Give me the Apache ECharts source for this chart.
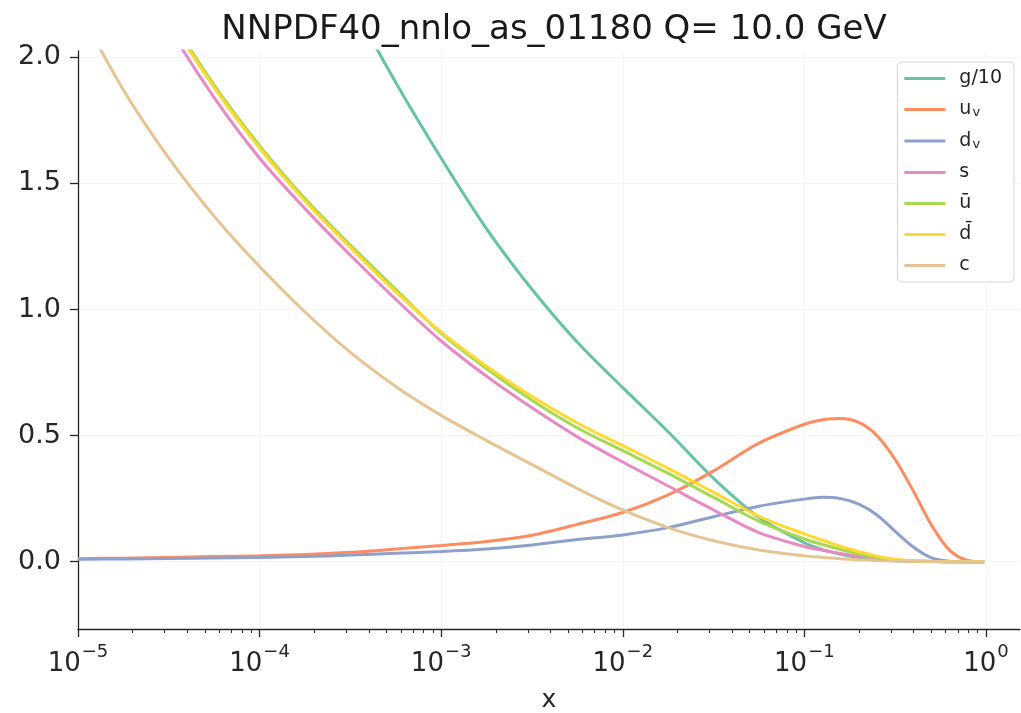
<!DOCTYPE html>
<html>
<head>
<meta charset="utf-8">
<script src="https://cdn.jsdelivr.net/npm/echarts@6/dist/echarts.min.js"></script>
<style>
html,body{margin:0;padding:0;background:#fff;}
#chart{width:1021px;height:713px;}
</style>
</head>
<body>
<div id="chart"></div>
<script>
// ---- data ----
const titleText = 'NNPDF40_nnlo_as_01180 Q= 10.0 GeV';
// x sample points, given as exponents of 10
const xExponents = [-5, -4.75, -4.5, -4.25, -4, -3.75, -3.5, -3.25, -3, -2.75, -2.5, -2.25, -2, -1.75, -1.5, -1.25, -1, -0.9, -0.8, -0.7, -0.6, -0.5, -0.4, -0.3, -0.2, -0.1, -0.01];
const seriesNames = ['g/10', 'u_v', 'd_v', 's', 'ū', 'd̄', 'c'];
const gOver10 = [5.1, 4.5, 3.95, 3.45, 3.0, 2.6, 2.23, 1.9, 1.60, 1.32, 1.08, 0.87, 0.69, 0.515, 0.33, 0.175, 0.075, 0.048, 0.029, 0.016, 0.008, 0.004, 0.002, 0.001, 0, 0, 0];
const uValence = [0.012, 0.014, 0.017, 0.020, 0.023, 0.028, 0.037, 0.050, 0.064, 0.080, 0.105, 0.148, 0.195, 0.265, 0.36, 0.47, 0.545, 0.563, 0.568, 0.552, 0.50, 0.405, 0.28, 0.145, 0.045, 0.005, 0];
const dValence = [0.010, 0.011, 0.013, 0.015, 0.017, 0.020, 0.026, 0.033, 0.040, 0.050, 0.066, 0.088, 0.106, 0.135, 0.178, 0.22, 0.248, 0.255, 0.25, 0.228, 0.185, 0.12, 0.058, 0.015, 0.002, 0, 0];
const sQuark = [2.80, 2.44, 2.12, 1.84, 1.60, 1.40, 1.215, 1.04, 0.875, 0.735, 0.61, 0.495, 0.395, 0.30, 0.205, 0.115, 0.06, 0.045, 0.032, 0.021, 0.012, 0.006, 0.002, 0.001, 0, 0, 0];
const uBar = [2.87, 2.50, 2.17, 1.89, 1.65, 1.44, 1.255, 1.08, 0.905, 0.765, 0.64, 0.53, 0.44, 0.35, 0.255, 0.16, 0.09, 0.068, 0.048, 0.03, 0.016, 0.007, 0.003, 0.001, 0, 0, 0];
const dBar = [2.86, 2.49, 2.16, 1.88, 1.64, 1.43, 1.245, 1.07, 0.91, 0.775, 0.655, 0.55, 0.46, 0.37, 0.275, 0.18, 0.11, 0.085, 0.06, 0.04, 0.022, 0.01, 0.004, 0.001, 0, 0, 0];
const cQuark = [2.2, 1.87, 1.60, 1.37, 1.17, 0.99, 0.83, 0.695, 0.58, 0.48, 0.385, 0.29, 0.205, 0.135, 0.083, 0.046, 0.023, 0.017, 0.012, 0.008, 0.005, 0.003, 0.002, 0.001, 0, 0, 0];
const yTickValues = [0, 0.5, 1.0, 1.5, 2.0];
const xMajorExponents = [-5, -4, -3, -2, -1, 0];
const colors = ['#66c2a5', '#fc8d62', '#8da0cb', '#e78ac3', '#a6d854', '#ffd92f', '#e5c494'];

// ---- build ----
const xs = xExponents.map(e => Math.pow(10, e));
const allValues = [gOver10, uValence, dValence, sQuark, uBar, dBar, cQuark];
const majorTicks = xMajorExponents.map(e => Math.pow(10, e));
const minorTicks = [];
for (let e = -5; e <= 0; e++) {
  for (let k = 2; k <= 9; k++) {
    const v = k * Math.pow(10, e);
    if (v < 1.54) minorTicks.push(v);
  }
}
const FONT = 'DejaVu Sans';
const chart = echarts.init(document.getElementById('chart'), null, {renderer: 'canvas'});

const series = seriesNames.map((name, i) => ({
  name: name,
  type: 'line',
  data: xs.map((x, j) => [x, allValues[i][j]]),
  showSymbol: false,
  symbol: 'none',
  smooth: 0.3,
  clip: true,
  lineStyle: {width: 3, color: colors[i]},
  itemStyle: {color: colors[i]},
  z: 2 + i
}));

function legendFmt(name) {
  if (name === 'u_v') return '{n|u}{sub|v}';
  if (name === 'd_v') return '{n|d}{sub|v}';
  return '{n|' + name + '}';
}

const option = {
  animation: false,
  backgroundColor: '#ffffff',
  color: colors,
  title: {
    text: titleText,
    left: 549,
    textAlign: 'center',
    top: 8,
    textStyle: {fontFamily: FONT, fontSize: 34, fontWeight: 'normal', color: '#1a1a1a'}
  },
  grid: {left: 78, top: 51, right: 1, bottom: 84, containLabel: false, outerBoundsMode: 'none'},
  legend: {
    orient: 'vertical',
    right: 7,
    top: 62,
    data: seriesNames,
    icon: 'rect',
    itemWidth: 41,
    itemHeight: 3,
    itemGap: 12,
    padding: [7, 12, 7, 7],
    borderColor: '#d6d6d6',
    borderWidth: 1,
    borderRadius: 4,
    backgroundColor: 'rgba(255,255,255,0.85)',
    formatter: legendFmt,
    textStyle: {
      fontFamily: FONT,
      color: '#262626',
      padding: [0, 0, 0, 9],
      rich: {
        n: {fontFamily: FONT, fontSize: 19, color: '#262626', lineHeight: 20},
        sub: {fontFamily: FONT, fontSize: 13, color: '#262626', verticalAlign: 'bottom', lineHeight: 14, padding: [6, 0, 0, 1]}
      }
    }
  },
  xAxis: [{
    type: 'log',
    logBase: 10,
    min: 1e-5,
    max: 1.54,
    name: 'x',
    nameLocation: 'middle',
    nameGap: 59,
    nameTextStyle: {fontFamily: FONT, fontSize: 25, color: '#262626'},
    axisLine: {show: true, onZero: false, lineStyle: {color: '#262626', width: 1.3}},
    axisTick: {show: true, length: 8, customValues: majorTicks, lineStyle: {color: '#262626', width: 1.3}},
    axisLabel: {
      show: true,
      customValues: majorTicks,
      margin: 14,
      formatter: function (v) {
        const e = Math.round(Math.log10(v));
        return '{b|10}{s|' + (e < 0 ? '\u2212' + (-e) : String(e)) + '}';
      },
      rich: {
        b: {fontFamily: FONT, fontSize: 26, color: '#262626', verticalAlign: 'bottom', lineHeight: 34},
        s: {fontFamily: FONT, fontSize: 18, color: '#262626', verticalAlign: 'top', lineHeight: 34, padding: [0, 0, 14, 1]}
      }
    },
    splitLine: {show: true, lineStyle: {color: '#f4f4f4', width: 1}},
    minorTick: {show: false},
    minorSplitLine: {show: false}
  }, {
    type: 'log',
    logBase: 10,
    min: 1e-5,
    max: 1.54,
    gridIndex: 0,
    position: 'bottom',
    axisLine: {show: false, onZero: false},
    axisTick: {show: true, length: 4, customValues: minorTicks, lineStyle: {color: '#262626', width: 1}},
    axisLabel: {show: false},
    splitLine: {show: false}
  }],
  yAxis: {
    type: 'value',
    min: -0.267,
    max: 2.025,
    axisLine: {show: true, onZero: false, lineStyle: {color: '#262626', width: 1.3}},
    axisTick: {show: true, length: 8, customValues: yTickValues, lineStyle: {color: '#262626', width: 1.3}},
    axisLabel: {
      show: true,
      customValues: yTickValues,
      margin: 17,
      formatter: v => v.toFixed(1),
      fontFamily: FONT,
      fontSize: 27,
      color: '#262626'
    },
    splitLine: {show: true, lineStyle: {color: '#f4f4f4', width: 1}}
  },
  series: series
};
chart.setOption(option);
</script>
</body>
</html>
